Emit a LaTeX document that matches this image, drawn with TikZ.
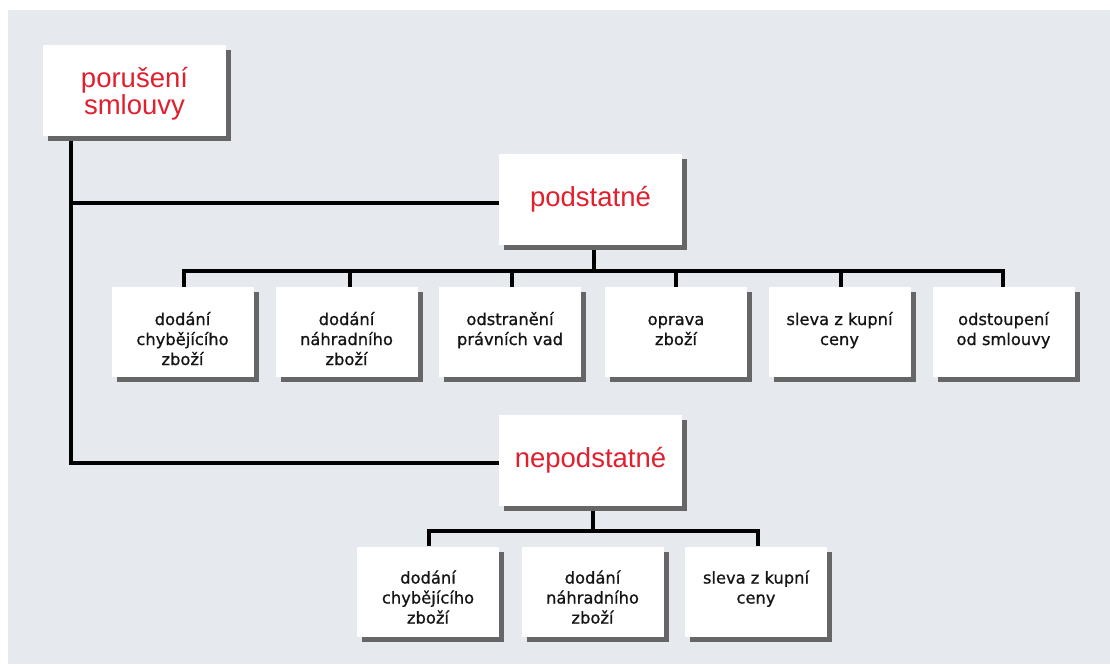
\documentclass[tikz,border=0pt]{standalone}
\usepackage{fontspec}
\usetikzlibrary{shadows}
\newfontfamily\redfont{Liberation Sans}
\newfontfamily\boxfont[FakeBold=0.8]{DejaVu Sans}
\definecolor{bgcol}{RGB}{230,233,238}
\definecolor{shadowcol}{RGB}{102,102,102}
\definecolor{redtext}{RGB}{224,32,46}
\definecolor{boxtext}{RGB}{20,20,20}
\tikzset{
  mainbox/.style={draw=none, fill=white, minimum width=183pt, minimum height=91pt, inner sep=0pt,
    drop shadow={shadow xshift=5pt, shadow yshift=-5pt, fill=shadowcol, opacity=1},
    text=redtext, align=center, font=\redfont\fontsize{27.5}{27}\selectfont},
  maintext/.style={inner sep=0pt, text=redtext, align=center, font=\redfont\fontsize{27.5}{27}\selectfont},
  leafbox/.style={draw=none, fill=white, minimum width=142pt, minimum height=90pt, inner sep=0pt,
    drop shadow={shadow xshift=5pt, shadow yshift=-5pt, fill=shadowcol, opacity=1}},
  leaftext/.style={anchor=north, inner sep=0pt, align=center, text=boxtext,
    font=\boxfont\fontsize{16.3}{20}\selectfont},
  conn/.style={draw=black, line width=3.2pt}
}
\begin{document}
\begin{tikzpicture}[x=1pt, y=-1pt]
\useasboundingbox (0,0) rectangle (1110,665);
\fill[bgcol] (8,10) rectangle (1110,664);

% connectors (drawn first, behind the boxes)
\coordinate (trunk) at (71,136);
\coordinate (busP) at (594,271);
\coordinate (busN) at (593,531);
\coordinate (junP) at (71,203);
\coordinate (junN) at (71,463);
\coordinate (podW) at (499,203);
\coordinate (nepW) at (499,463);
\draw[conn] (trunk) -- (junN) -- (nepW);
\draw[conn] (junP) -- (podW);
\draw[conn] (busP |- 0,245) -- (busP);
\draw[conn] (184,287) |- (busP) -| (1003,287);
\foreach \x in {350,512,676,841} \draw[conn] (\x,287) -- (\x,271);
\draw[conn] (busN |- 0,505) -- (busN);
\draw[conn] (429,546) |- (busN) -| (758,546);

% main boxes
\node[mainbox] (por) at (134.5,90.5) {};
\node[maintext] (port) at ([yshift=-3pt]por.center) {porušení\\smlouvy};
\node[mainbox] (pod) at (590.5,199.5) {podstatné};
\node[mainbox] (nep) at (590.5,460) {nepodstatné};

% first row of leaves
\node[leafbox] (b1) at (182.5,332) {};
\node[leafbox] (b2) at (346.5,332) {};
\node[leafbox] (b3) at (510,332) {};
\node[leafbox] (b4) at (676,332) {};
\node[leafbox] (b5) at (839.5,332) {};
\node[leafbox] (b6) at (1003.5,332) {};
\node[leaftext] (t1) at ([yshift=-24pt]b1.north) {\strut dodání\\chybějícího\\zboží};
\node[leaftext] (t2) at ([yshift=-24pt]b2.north) {\strut dodání\\náhradního\\zboží};
\node[leaftext] (t3) at ([yshift=-24pt]b3.north) {\strut odstranění\\právních vad};
\node[leaftext] (t4) at ([yshift=-24pt]b4.north) {\strut oprava\\zboží};
\node[leaftext] (t5) at ([yshift=-24pt]b5.north) {\strut sleva z kupní\\ceny};
\node[leaftext] (t6) at ([yshift=-24pt]b6.north) {\strut odstoupení\\od smlouvy};

% second row of leaves
\node[leafbox] (c1) at (428,591.5) {};
\node[leafbox] (c2) at (592.5,591.5) {};
\node[leafbox] (c3) at (756,591.5) {};
\node[leaftext] (u1) at ([yshift=-23pt]c1.north) {\strut dodání\\chybějícího\\zboží};
\node[leaftext] (u2) at ([yshift=-23pt]c2.north) {\strut dodání\\náhradního\\zboží};
\node[leaftext] (u3) at ([yshift=-23pt]c3.north) {\strut sleva z kupní\\ceny};
\end{tikzpicture}
\end{document}
